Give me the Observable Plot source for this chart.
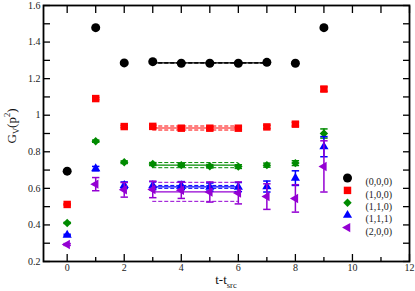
<!DOCTYPE html>
<html><head><meta charset="utf-8">
<script src="https://cdn.jsdelivr.net/npm/d3@7"></script>
<script src="https://cdn.jsdelivr.net/npm/@observablehq/plot@0.6"></script>
<style>body{margin:0;background:#fff} svg{display:block}</style>
</head><body><div id="chart"></div>
<script>
// ---- data ----
const t = [0, 1, 2, 3, 4, 5, 6, 7, 8, 9];
const seriesNames = ["(0,0,0)", "(1,0,0)", "(1,1,0)", "(1,1,1)", "(2,0,0)"];
const v000 = [0.694, 1.479, 1.286, 1.293, 1.284, 1.284, 1.284, 1.289, 1.284, 1.479];
const e000 = [0.003, 0.005, 0.005, 0.006, 0.006, 0.006, 0.006, 0.007, 0.007, 0.008];
const v100 = [0.512, 1.091, 0.938, 0.939, 0.929, 0.929, 0.929, 0.936, 0.951, 1.143];
const e100 = [0.003, 0.006, 0.006, 0.007, 0.007, 0.008, 0.008, 0.009, 0.010, 0.012];
const v110 = [0.411, 0.858, 0.743, 0.733, 0.727, 0.721, 0.719, 0.727, 0.738, 0.900];
const e110 = [0.003, 0.006, 0.007, 0.008, 0.008, 0.009, 0.010, 0.011, 0.013, 0.025];
const v111 = [0.345, 0.708, 0.617, 0.615, 0.615, 0.607, 0.607, 0.610, 0.656, 0.828];
const e111 = [0.004, 0.012, 0.018, 0.022, 0.022, 0.022, 0.025, 0.030, 0.040, 0.055];
const v200 = [0.293, 0.623, 0.592, 0.594, 0.590, 0.580, 0.575, 0.555, 0.545, 0.720];
const e200 = [0.005, 0.036, 0.040, 0.045, 0.045, 0.055, 0.060, 0.070, 0.075, 0.140];
// plateau fits: start, end, central value, error
const fitStart = [3, 3, 3, 3, 3];
const fitEnd = [7, 6, 6, 6, 6];
const fitCenter = [1.286, 0.930, 0.727, 0.608, 0.581];
const fitErr = [0.001, 0.011, 0.014, 0.008, 0.052];
// axis ticks
const xMajor = [0, 2, 4, 6, 8, 10, 12];
const xMinor = [1, 3, 5, 7, 9, 11];
const yMajor = [0.2, 0.4, 0.6, 0.8, 1.0, 1.2, 1.4, 1.6];
const yMinor = [0.3, 0.5, 0.7, 0.9, 1.1, 1.3, 1.5];

// ---- styles ----
const colors = ["#000000", "#ff0000", "#008b00", "#0000ff", "#9400d3"];
const hline = {draw(ctx, size) { const r = Math.sqrt(size / Math.PI); ctx.moveTo(-r, 0); ctx.lineTo(r, 0); }};
const leftTri = {draw(ctx, size) {
  const s = Math.sqrt(size / (Math.sqrt(3) * 3));
  ctx.moveTo(-2 * s, 0); ctx.lineTo(s, -Math.sqrt(3) * s); ctx.lineTo(s, Math.sqrt(3) * s); ctx.closePath();
}};
const symbols = ["circle", "square", "diamond2", "triangle", leftTri];
const radii = [4.5, 4.2, 3.8, 3.4, 3.5];

const values = [v000, v100, v110, v111, v200];
const errors = [e000, e100, e110, e111, e200];
const series = seriesNames.map((name, k) => t.map((ti, i) => ({name, t: ti, v: values[k][i], e: errors[k][i]})));
const fits = seriesNames.map((name, k) => ({name, t0: fitStart[k], t1: fitEnd[k], c: fitCenter[k], e: fitErr[k]}));

const marks = [];
// fit lines
fits.forEach((f, k) => {
  marks.push(Plot.ruleY([f], {y: "c", x1: "t0", x2: "t1", stroke: colors[k], strokeWidth: 1.1}));
  marks.push(Plot.ruleY([f], {y: d => d.c + d.e, x1: "t0", x2: "t1", stroke: colors[k], strokeWidth: 1, strokeDasharray: "4,2"}));
  marks.push(Plot.ruleY([f], {y: d => d.c - d.e, x1: "t0", x2: "t1", stroke: colors[k], strokeWidth: 1, strokeDasharray: "4,2"}));
});
// points with error bars
series.forEach((rows, k) => {
  marks.push(Plot.ruleX(rows, {x: "t", y1: d => d.v - d.e, y2: d => d.v + d.e, stroke: colors[k], strokeWidth: 1.5}));
  marks.push(Plot.dot(rows, {x: "t", y: d => d.v + d.e, symbol: hline, r: 3.7, stroke: colors[k], fill: "none", strokeWidth: 1.5}));
  marks.push(Plot.dot(rows, {x: "t", y: d => d.v - d.e, symbol: hline, r: 3.7, stroke: colors[k], fill: "none", strokeWidth: 1.5}));
  marks.push(Plot.dot(rows, {x: "t", y: "v", symbol: symbols[k], r: radii[k], fill: colors[k], stroke: "none"}));
});
// legend inside plot
seriesNames.forEach((name, k) => {
  marks.push(Plot.dot([name], {frameAnchor: "top-left", dx: 304, dy: 172.5 + 12.4 * k, symbol: symbols[k], r: radii[k], fill: colors[k], stroke: "none"}));
  marks.push(Plot.text([name], {text: d => d, frameAnchor: "top-left", dx: 322, dy: 172.5 + 12.4 * k, textAnchor: "start", fontSize: 10, fill: "#222"}));
});
// axes: labels and inward ticks on all sides
const noText = () => "";
marks.push(
  Plot.axisX({anchor: "bottom", ticks: xMajor, tickSize: 0, tickPadding: 2, label: null, tickFormat: d => String(d), fill: "#222"}),
  Plot.axisY({anchor: "left", ticks: yMajor, tickSize: 0, tickPadding: 3, label: null, tickFormat: d => String(+d.toFixed(1)), fill: "#222"}),
  Plot.axisX({anchor: "bottom", ticks: xMajor, tickSize: -7, tickFormat: noText, label: null, strokeWidth: 1.3}),
  Plot.axisX({anchor: "bottom", ticks: xMinor, tickSize: -4, tickFormat: noText, label: null, strokeWidth: 1.3}),
  Plot.axisX({anchor: "top", ticks: xMajor, tickSize: -7, tickFormat: noText, label: null, strokeWidth: 1.3}),
  Plot.axisX({anchor: "top", ticks: xMinor, tickSize: -7, tickFormat: noText, label: null, strokeWidth: 1.3}),
  Plot.axisY({anchor: "left", ticks: yMajor, tickSize: -7, tickFormat: noText, label: null, strokeWidth: 1.3}),
  Plot.axisY({anchor: "left", ticks: yMinor, tickSize: -7, tickFormat: noText, label: null, strokeWidth: 1.3}),
  Plot.axisY({anchor: "right", ticks: yMajor, tickSize: -7, tickFormat: noText, label: null, strokeWidth: 1.3}),
  Plot.axisY({anchor: "right", ticks: yMinor, tickSize: -7, tickFormat: noText, label: null, strokeWidth: 1.3}),
  Plot.frame({stroke: "#000", strokeWidth: 1.8})
);

const chart = Plot.plot({
  width: 415, height: 291,
  marginLeft: 43, marginRight: 6, marginTop: 5, marginBottom: 30,
  x: {domain: [-0.83, 12]},
  y: {domain: [0.2, 1.6]},
  style: {fontFamily: "'Liberation Serif', serif", fontSize: "10px", background: "#fff", overflow: "visible"},
  marks
});
document.getElementById("chart").append(chart);

// axis titles with sub/superscripts
const svg = d3.select(chart);
const xl = svg.append("text").attr("x", 226).attr("y", 284).attr("text-anchor", "middle")
  .attr("font-family", "'Liberation Serif', serif").attr("font-size", 13).attr("fill", "#111");
xl.append("tspan").text("t-t");
xl.append("tspan").attr("font-size", 8.5).attr("dy", 4).text("src");
const yl = svg.append("text").attr("transform", "translate(16,126) rotate(-90)").attr("text-anchor", "middle")
  .attr("font-family", "'Liberation Serif', serif").attr("font-size", 13).attr("fill", "#111");
yl.append("tspan").text("G");
yl.append("tspan").attr("font-size", 8.5).attr("dy", 3).text("V");
yl.append("tspan").attr("dy", -3).text("(p");
yl.append("tspan").attr("font-size", 8.5).attr("dy", -6).text("2");
yl.append("tspan").attr("dy", 6).text(")");
</script>
</body></html>
